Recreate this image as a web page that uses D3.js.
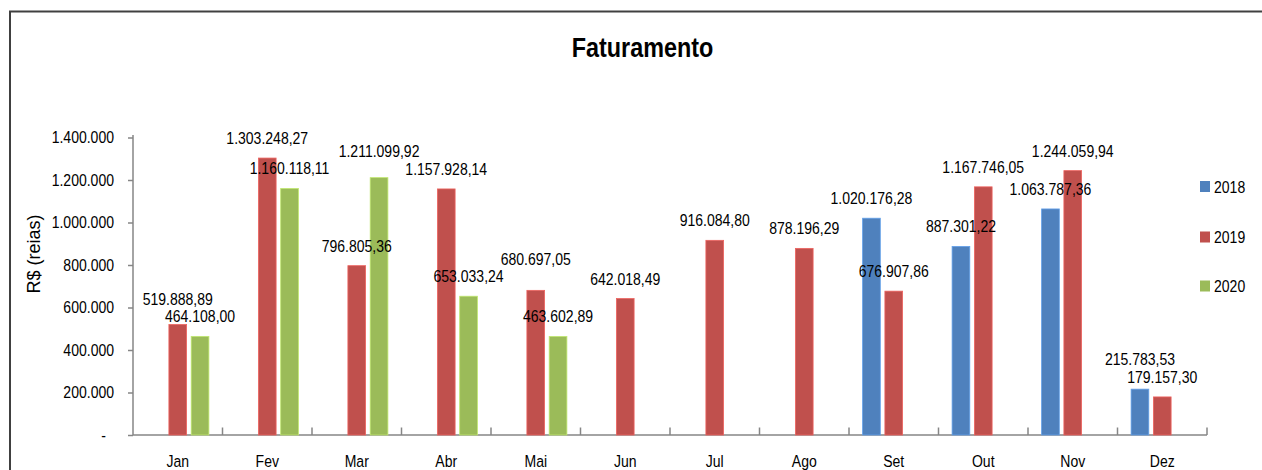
<!DOCTYPE html>
<html>
<head>
<meta charset="utf-8">
<script src="https://cdn.jsdelivr.net/npm/d3@7"></script>
<style>
  html, body { margin: 0; padding: 0; background: #fff; }
  svg { display: block; }
  text { font-family: "Liberation Sans", Arial, sans-serif; fill: #000; }
</style>
</head>
<body>
<svg id="chart" width="1262" height="470"></svg>
<script>
const months = ["Jan","Fev","Mar","Abr","Mai","Jun","Jul","Ago","Set","Out","Nov","Dez"];
const seriesNames = ["2018","2019","2020"];
const values2018 = [null,null,null,null,null,null,null,null,1020176.28,887301.22,1063787.36,215783.53];
const values2019 = [519888.89,1303248.27,796805.36,1157928.14,680697.05,642018.49,916084.80,878196.29,676907.86,1167746.05,1244059.94,179157.30];
const values2020 = [464108.00,1160118.11,1211099.92,653033.24,463602.89,null,null,null,null,null,null,null];
const yTicks = [0,200000,400000,600000,800000,1000000,1200000,1400000];
const colors = ["#4F81BD","#C0504D","#9BBB59"];
const chartTitle = "Faturamento";
const yTitle = "R$ (reias)";

const seriesValues = [values2018, values2019, values2020];
const SX = 0.85;      // horizontal condensation of the Calibri-like text
const FS = 16.5;
const svg = d3.select("#chart");

svg.append("rect").attr("x",0).attr("y",0).attr("width",1262).attr("height",470).attr("fill","#fff");
svg.append("rect").attr("x",10).attr("y",11.5).attr("width",1300).attr("height",520)
  .attr("fill","none").attr("stroke","#404040").attr("stroke-width",2);

svg.append("text").attr("transform","translate(642.5,57) scale(0.82,1)").attr("text-anchor","middle")
  .attr("font-size",28.5).attr("font-weight","bold").text(chartTitle);

const x0 = d3.scaleBand().domain(months).range([133,1207]).paddingInner(0.304).paddingOuter(0.152);
const x1 = d3.scaleBand().domain(seriesNames).range([0,x0.bandwidth()]).paddingInner(0.206);
const y = d3.scaleLinear().domain([0,1400000]).range([435,137.5]);

const loc = d3.formatLocale({decimal:",", thousands:".", grouping:[3], currency:["R$",""]});
const fmtTick = loc.format(",.0f");
const fmtLabel = loc.format(",.2f");

// Y axis
const yAxis = d3.axisLeft(y).tickValues(yTicks).tickSize(5).tickPadding(14)
  .tickFormat(d => d === 0 ? "-" : fmtTick(d));
const gy = svg.append("g").attr("transform","translate(133,0)").call(yAxis);
gy.select(".domain").attr("stroke","#868686").attr("stroke-width",1.5).attr("d","M0,135V435");
gy.selectAll(".tick line").attr("stroke","#868686").attr("stroke-width",1.5);
gy.selectAll(".tick text").attr("font-size",FS).attr("font-family",null)
  .attr("x", d => (d === 0 ? -27 : -19) / SX).attr("transform",`scale(${SX},1)`);

// X axis line + category boundary ticks
svg.append("line").attr("x1",133).attr("x2",1207).attr("y1",435).attr("y2",435)
  .attr("stroke","#868686").attr("stroke-width",1.5);
const step = x0.step();
svg.append("g").selectAll("line").data(months).join("line")
  .attr("x1",(d,i)=>133+(i+1)*step).attr("x2",(d,i)=>133+(i+1)*step)
  .attr("y1",435).attr("y2",427.5).attr("stroke","#868686").attr("stroke-width",1.5);
svg.append("g").selectAll("text").data(months).join("text")
  .attr("transform",d=>`translate(${x0(d)+x0.bandwidth()/2},467) scale(${SX},1)`)
  .attr("text-anchor","middle").attr("font-size",FS).text(d=>d);

// Y title
svg.append("text").attr("transform","translate(40,254) rotate(-90)").attr("text-anchor","middle")
  .attr("font-size",18).text(yTitle);

// Bars
const barData = [];
months.forEach((m,i)=>{
  seriesNames.forEach((s,j)=>{
    const v = seriesValues[j][i];
    if (v !== null) barData.push({m, s, v, c: colors[j]});
  });
});
svg.append("g").selectAll("rect").data(barData).join("rect")
  .attr("x",d=>x0(d.m)+x1(d.s)).attr("width",x1.bandwidth())
  .attr("y",d=>y(d.v)).attr("height",d=>y(0)-y(d.v))
  .attr("fill",d=>d.c).attr("stroke",d=>d3.color(d.c).brighter(0.6)).attr("stroke-width",0.8);

// Data labels with simple collision avoidance
barData.forEach(d => { d.cx = x0(d.m)+x1(d.s)+x1.bandwidth()/2; d.ly = y(d.v)-14; });
const labels = svg.append("g").selectAll("text").data(barData).join("text")
  .attr("text-anchor","middle").attr("font-size",FS).text(d=>fmtLabel(d.v))
  .attr("transform",d=>`translate(${d.cx},${d.ly}) scale(${SX},1)`);
labels.each(function(d){ d.w = this.getComputedTextLength()*SX; });
const GAP = 17.5;
for (let pass=0; pass<4; pass++) {
  for (let i=0;i<barData.length;i++) for (let j=i+1;j<barData.length;j++) {
    const a = barData[i], b = barData[j];
    if (Math.abs(a.cx-b.cx) < (a.w+b.w)/2 && Math.abs(a.ly-b.ly) < GAP) {
      if (a.ly <= b.ly) a.ly = b.ly - GAP; else b.ly = a.ly - GAP;
    }
  }
}
labels.attr("transform",d=>`translate(${d.cx},${d.ly}) scale(${SX},1)`);

// Legend
const legendY = [181, 231.5, 280.5];
const lg = svg.append("g").selectAll("g").data(seriesNames).join("g");
lg.append("rect").attr("x",1200).attr("y",(d,i)=>legendY[i]).attr("width",10).attr("height",11)
  .attr("fill",(d,i)=>colors[i]);
lg.append("text").attr("transform",(d,i)=>`translate(1214,${legendY[i]+11.5}) scale(${SX},1)`)
  .attr("font-size",FS).text(d=>d);
</script>
</body>
</html>
